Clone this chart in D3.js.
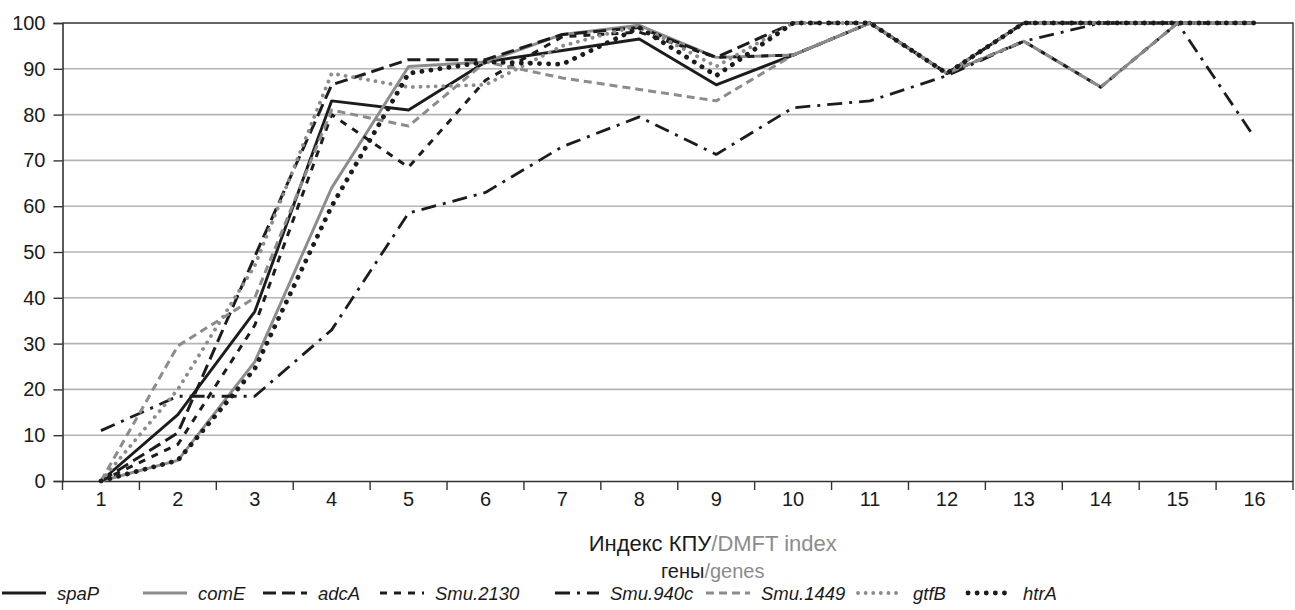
<!DOCTYPE html>
<html>
<head>
<meta charset="utf-8">
<script src="https://cdn.jsdelivr.net/npm/d3@7"></script>
<style>
  body { margin: 0; background: #fff; }
  svg { font-family: "Liberation Sans", Arial, sans-serif; }
</style>
</head>
<body>
<div id="chart"></div>
<script>
// DMFT index categories
var categories = ["1","2","3","4","5","6","7","8","9","10","11","12","13","14","15","16"];
var yTicks = [0,10,20,30,40,50,60,70,80,90,100];

// percent per gene
var spaP     = [0, 14.5, 37, 83, 81, 91.5, 94, 96.5, 86.5, 93, 100, 89, 100, 100, 100, 100];
var comE     = [0, 4.5, 26, 64, 90.5, 91.5, 97.5, 99.5, 92.5, 93, 100, 89, 96, 86, 100, 100];
var adcA     = [0, 10.5, 49, 86.5, 92, 92, 97.5, 99, 92.5, 100, 100, 89, 100, 100, 100, 100];
var smu2130  = [0, 8, 34, 80, 68.5, 87.5, 97, 98, 92.5, 93, 100, 89, 96, 86, 100, 100];
var smu940c  = [11, 18.5, 18.5, 33, 58.5, 63, 73, 79.5, 71.3, 81.5, 83, 88.5, 96, 100, 100, 75];
var smu1449  = [0, 29.5, 40, 81, 77.5, 91.5, 88, 85.5, 83, 93, 100, 89, 96, 86, 100, 100];
var gtfB     = [0, 20, 47, 89, 86, 86.5, 95, 99.5, 90.5, 100, 100, 89, 100, 100, 100, 100];
var htrA     = [0, 4.5, 24.5, 60, 89, 91.5, 91, 99, 88.5, 100, 100, 89, 100, 100, 100, 100];

var geneNames = ["spaP", "comE", "adcA", "Smu.2130", "Smu.940c", "Smu.1449", "gtfB", "htrA"];
var geneValues = [spaP, comE, adcA, smu2130, smu940c, smu1449, gtfB, htrA];

var black = "#1c1c1c", grey = "#8c8c8c";
// line styles per gene
var styles = [
  {color: black, width: 2.9, dash: null, cap: "butt"},
  {color: grey,  width: 2.9, dash: null, cap: "butt"},
  {color: black, width: 3, dash: "13,6", cap: "butt"},
  {color: black, width: 3, dash: "7,7", cap: "butt"},
  {color: black, width: 2.8, dash: "15,7,3,7", cap: "butt"},
  {color: grey,  width: 3, dash: "8,5", cap: "butt"},
  {color: grey,  width: 3.8, dash: "0.1,7.5", cap: "round"},
  {color: black, width: 4.8, dash: "0.1,9", cap: "round"}
];

var width = 1295, height = 610;
var margin = {top: 23, right: 2, bottom: 129, left: 62.5};

var svg = d3.select("#chart").append("svg")
    .attr("width", width)
    .attr("height", height);

var x = d3.scaleBand()
    .domain(categories)
    .range([margin.left, width - margin.right])
    .padding(0);

var y = d3.scaleLinear()
    .domain([0, 100])
    .range([height - margin.bottom, margin.top]);

function cx(c) { return x(c) + x.bandwidth() / 2; }

// grid lines
svg.append("g")
    .selectAll("line")
    .data(yTicks.filter(function(d){ return d > 0 && d < 100; }))
    .enter().append("line")
    .attr("x1", margin.left)
    .attr("x2", width - margin.right)
    .attr("y1", function(d){ return y(d); })
    .attr("y2", function(d){ return y(d); })
    .style("stroke", "#b4b4b4")
    .style("stroke-width", "1.6px");

// plot border top + right
svg.append("path")
    .attr("d", "M" + margin.left + "," + y(100) + "H" + (width - margin.right) + "V" + y(0))
    .style("fill", "none")
    .style("stroke", "#333")
    .style("stroke-width", "1.4px");

// y axis
var yAxis = svg.append("g")
    .attr("transform", "translate(" + margin.left + ",0)")
    .call(d3.axisLeft(y).tickValues(yTicks).tickSize(9).tickPadding(8));
yAxis.select(".domain").style("stroke", "#333").style("stroke-width", "1.6px");
yAxis.selectAll(".tick line").style("stroke", "#333").style("stroke-width", "1.4px");
yAxis.selectAll("text").style("font-size", "20px").style("fill", "#1a1a1a");

// x axis
var xAxis = svg.append("g")
    .attr("transform", "translate(0," + y(0) + ")")
    .call(d3.axisBottom(x).tickSize(0).tickPadding(11));
xAxis.select(".domain").style("stroke", "#333").style("stroke-width", "1.6px");
xAxis.selectAll("text").style("font-size", "20px").style("fill", "#1a1a1a");

// tick marks on band edges
var edges = categories.map(function(c){ return x(c); }).concat([x.range()[1]]);
xAxis.selectAll(".edge")
    .data(edges)
    .enter().append("line")
    .attr("class", "edge")
    .attr("x1", function(d){ return d; })
    .attr("x2", function(d){ return d; })
    .attr("y1", 0)
    .attr("y2", 9)
    .style("stroke", "#333")
    .style("stroke-width", "1.4px");

// series lines
var line = d3.line()
    .x(function(d, i){ return cx(categories[i]); })
    .y(function(d){ return y(d); });

svg.append("g").selectAll("path")
    .data(geneValues)
    .enter().append("path")
    .attr("d", function(d){ return line(d); })
    .style("fill", "none")
    .style("stroke", function(d, i){ return styles[i].color; })
    .style("stroke-width", function(d, i){ return styles[i].width + "px"; })
    .style("stroke-dasharray", function(d, i){ return styles[i].dash; })
    .style("stroke-linecap", function(d, i){ return styles[i].cap; })
    .style("stroke-linejoin", "round");

// axis title
var xt = svg.append("text")
    .attr("x", (margin.left + width - margin.right) / 2 + 35)
    .attr("y", 551)
    .attr("text-anchor", "middle")
    .style("font-size", "22px");
xt.append("tspan").style("fill", "#1a1a1a").text("Индекс КПУ");
xt.append("tspan").style("fill", grey).text("/DMFT index");

var lt = svg.append("text")
    .attr("x", (margin.left + width - margin.right) / 2 + 35)
    .attr("y", 578)
    .attr("text-anchor", "middle")
    .style("font-size", "20px");
lt.append("tspan").style("fill", "#1a1a1a").text("гены");
lt.append("tspan").style("fill", grey).text("/genes");

// legend
var legendX = [2, 143, 263, 380, 555, 706, 858, 968];
var legend = svg.append("g").attr("transform", "translate(0,600)");
var item = legend.selectAll("g")
    .data(geneNames)
    .enter().append("g")
    .attr("transform", function(d, i){ return "translate(" + legendX[i] + ",0)"; });

item.append("line")
    .attr("x1", 0).attr("x2", 44)
    .attr("y1", -7).attr("y2", -7)
    .style("stroke", function(d, i){ return styles[i].color; })
    .style("stroke-width", function(d, i){ return styles[i].width + "px"; })
    .style("stroke-dasharray", function(d, i){ return styles[i].dash; })
    .style("stroke-linecap", function(d, i){ return styles[i].cap; });

item.append("text")
    .attr("x", 55)
    .style("font-size", "18.5px")
    .style("font-style", "italic")
    .style("fill", "#1a1a1a")
    .text(function(d){ return d; });
</script>
</body>
</html>
